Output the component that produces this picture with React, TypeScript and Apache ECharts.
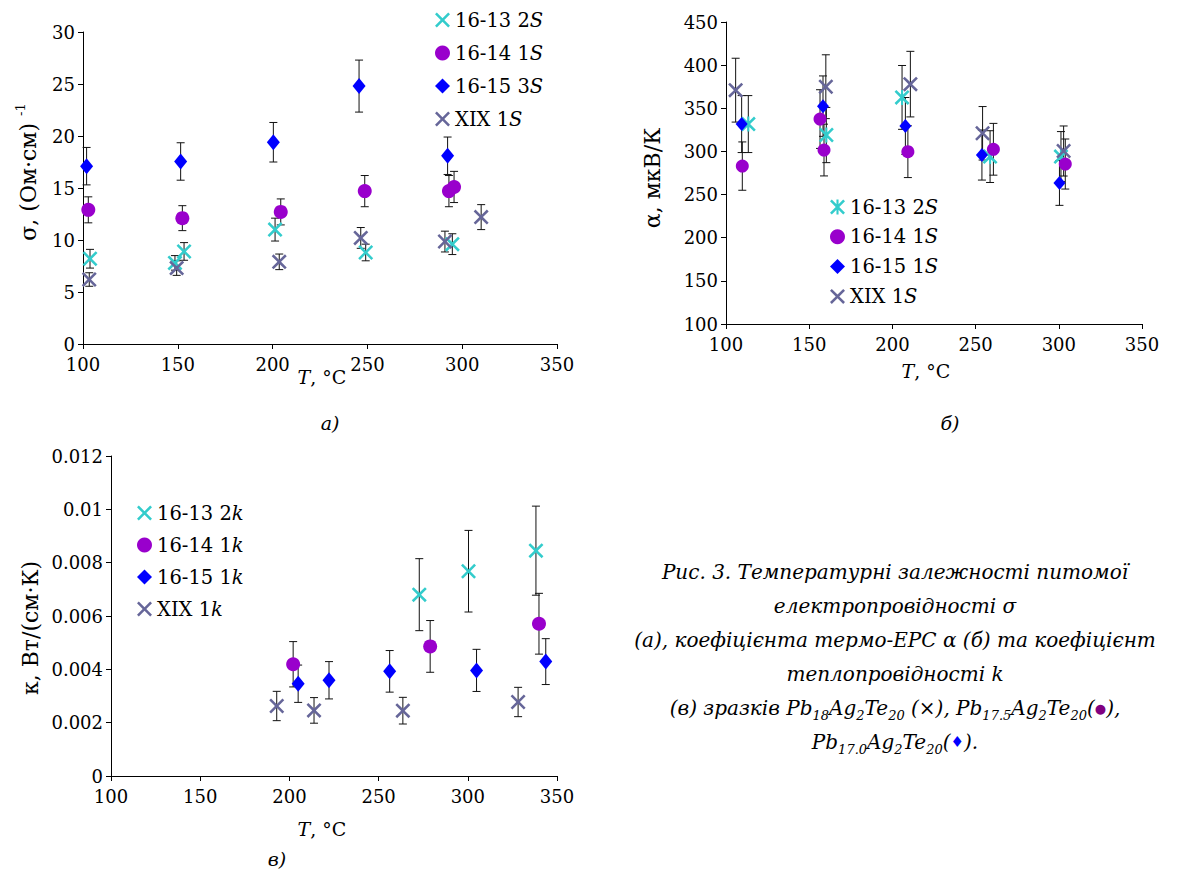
import React, { useEffect, useRef } from "react";
import * as echarts from "echarts";

const FONT = "DejaVu Serif";

// ---- Data: [T (°C), value, error] ----
// Panel а) σ, (Ом·см)^-1
const sigma1613 = [[103.7, 8.2, 0.9], [148.5, 7.8, 0.7], [153.3, 8.9, 0.85], [201.3, 11.0, 1.1], [249.1, 8.8, 0.8], [294.8, 9.6, 1.0]];
const sigma1614 = [[102.8, 12.9, 1.25], [152.4, 12.1, 1.2], [204.3, 12.7, 1.25], [248.6, 14.7, 1.5], [293.0, 14.7, 1.5], [295.7, 15.1, 1.5]];
const sigma1615 = [[101.9, 17.1, 1.8], [151.5, 17.55, 1.8], [200.4, 19.4, 1.9], [245.6, 24.8, 2.5], [292.3, 18.1, 1.8]];
const sigmaXIX = [[103.3, 6.2, 0.65], [149.4, 7.3, 0.7], [203.5, 7.9, 0.75], [246.5, 10.2, 1.0], [290.9, 9.85, 1.0], [310.0, 12.2, 1.2]];

// Panel б) α, мкВ/К
const alpha1613 = [[113.4, 331.7, 33], [160.3, 319, 32], [205.8, 362.6, 37], [258.7, 294, 30], [301.3, 294, 29]];
const alpha1614 = [[109.8, 283, 28], [156.5, 337.5, 34], [158.9, 301.6, 30], [209.3, 299.7, 30], [260.7, 302.5, 30], [303.9, 285.4, 29]];
const alpha1615 = [[109.4, 331.7, 33], [158.3, 352.5, 35], [207.8, 329.5, 33], [253.8, 295.8, 29], [300.4, 263.5, 26]];
const alphaXIX = [[105.8, 371, 37], [160.0, 375, 37], [210.8, 378, 38], [254.2, 321, 31], [302.9, 300.5, 29]];

// Panel в) κ, Вт/(см·К)
const kappa1613 = [[272.8, 0.0068, 0.00135], [300.4, 0.00768, 0.00153], [338.2, 0.00845, 0.00167]];
const kappa1614 = [[202.1, 0.00419, 0.00085], [278.9, 0.00486, 0.00097], [339.9, 0.00571, 0.00114]];
const kappa1615 = [[204.9, 0.00346, 0.0007], [222.2, 0.00359, 0.0007], [256.2, 0.003925, 0.00078], [304.9, 0.00396, 0.00079], [343.7, 0.00429, 0.00086]];
const kappaXIX = [[192.9, 0.002625, 0.00055], [213.8, 0.00246, 0.00048], [263.6, 0.00245, 0.0005], [328.2, 0.002775, 0.00055]];

// Legend labels (base text + italic letter)
const legendA = ["16-13 2", "16-14 1", "16-15 3", "XIX 1"];
const legendB = ["16-13 2", "16-14 1", "16-15 1", "XIX 1"];
const legendC = ["16-13 2", "16-14 1", "16-15 1", "XIX 1"];

// Axis ranges
const xRange = [100, 350, 50];
const sigmaRange = [0, 30, 5];
const alphaRange = [100, 450, 50];
const kappaRange = [0, 0.012, 0.002];

const COLORS = ["#33CCCC", "#9900CC", "#0000FF", "#666699"];
const X_SHAPE = "M0,1.2L1.2,0L5,3.8L8.8,0L10,1.2L6.2,5L10,8.8L8.8,10L5,6.2L1.2,10L0,8.8L3.8,5Z";
const X_PATH = "path://" + X_SHAPE;
const AST_PATH = "path://" + X_SHAPE + "M4.3,0L5.7,0L5.7,10L4.3,10Z";

function errRender(params: any, api: any) {
  const x = api.value(0);
  const lo = api.coord([x, api.value(1)]);
  const hi = api.coord([x, api.value(2)]);
  const w = 4;
  const st = { stroke: "#111", lineWidth: 1 };
  return {
    type: "group",
    children: [
      { type: "line", shape: { x1: lo[0], y1: lo[1], x2: hi[0], y2: hi[1] }, style: st },
      { type: "line", shape: { x1: lo[0] - w, y1: lo[1], x2: lo[0] + w, y2: lo[1] }, style: st },
      { type: "line", shape: { x1: hi[0] - w, y1: hi[1], x2: hi[0] + w, y2: hi[1] }, style: st },
    ],
  };
}

function buildPanel(panel: string, gi: number, sets: number[][][], labels: string[], letter: string, symbols: any[]) {
  const series: any[] = [];
  sets.forEach((d, i) => {
    series.push({
      type: "custom",
      name: `${panel}-err-${i}`,
      xAxisIndex: gi,
      yAxisIndex: gi,
      renderItem: errRender,
      encode: { x: 0, y: [1, 2] },
      data: d.map((p) => [p[0], p[1] - p[2], p[1] + p[2]]),
      z: 2,
      silent: true,
    });
  });
  sets.forEach((d, i) => {
    series.push({
      type: "scatter",
      name: `${panel}:${labels[i]}:${letter}`,
      xAxisIndex: gi,
      yAxisIndex: gi,
      symbol: symbols[i][0],
      symbolSize: symbols[i][1],
      itemStyle: { color: COLORS[i], opacity: 1 },
      data: d.map((p) => [p[0], p[1]]),
      z: 3,
    });
  });
  return series;
}

function axisCommon(range: number[], margin: number, fmt?: (v: number) => string) {
  return {
    type: "value",
    min: range[0],
    max: range[1],
    interval: range[2],
    axisLine: { show: true, onZero: false, lineStyle: { color: "#000", width: 1 } },
    axisTick: { show: true, inside: false, length: 5, lineStyle: { color: "#000" } },
    axisLabel: { color: "#000", fontFamily: FONT, fontSize: 18, margin, formatter: fmt },
    splitLine: { show: false },
  };
}

function legendFor(panel: string, labels: string[], letter: string, left: number, top: number, gap: number) {
  return {
    orient: "vertical",
    left,
    top,
    itemGap: gap,
    itemWidth: 15,
    itemHeight: 15,
    selectedMode: false,
    data: labels.map((l) => `${panel}:${l}:${letter}`),
    formatter: (name: string) => {
      const parts = name.split(":");
      return `{n|${parts[1]}}{i|${parts[2]}}`;
    },
    textStyle: {
      color: "#000",
      fontFamily: FONT,
      rich: {
        n: { fontFamily: FONT, fontSize: 19.5, color: "#000", lineHeight: 22 },
        i: { fontFamily: FONT, fontSize: 19.5, fontStyle: "italic", color: "#000", lineHeight: 22 },
      },
    },
  };
}

const capRich = {
  t: { fontFamily: FONT, fontSize: 20, fontStyle: "italic", fill: "#000", lineHeight: 28 },
  s: { fontFamily: FONT, fontSize: 13, fontStyle: "italic", fill: "#000", lineHeight: 14, verticalAlign: "bottom" },
  p: { fontFamily: FONT, fontSize: 13, fill: "#800080", lineHeight: 28 },
  d: { fontFamily: FONT, fontSize: 15, fill: "#0000FF", lineHeight: 28 },
};

const captionLines = [
  "{t|Рис. 3. Температурні залежності питомої}",
  "{t|електропровідності σ}",
  "{t|(а), коефіцієнта термо-ЕРС α (б) та коефіцієнт}",
  "{t|теплопровідності k}",
  "{t|(в) зразків Pb}{s|18}{t|Ag}{s|2}{t|Te}{s|20}{t| (×), Pb}{s|17.5}{t|Ag}{s|2}{t|Te}{s|20}{t|(}{p|●}{t|),}",
  "{t|Pb}{s|17.0}{t|Ag}{s|2}{t|Te}{s|20}{t|(}{d|♦}{t|).}",
];
const captionY = [572, 606, 640, 674, 708, 742];

function txt(x: number, y: number, text: string, rich: any, rotation = 0) {
  return {
    type: "text",
    x,
    y,
    rotation,
    style: { text, rich, fontFamily: FONT, align: "center", verticalAlign: "middle", fill: "#000" },
    z: 10,
  };
}

const axRich = {
  n: { fontFamily: FONT, fontSize: 19, fill: "#000", lineHeight: 24 },
  i: { fontFamily: FONT, fontSize: 19, fontStyle: "italic", fill: "#000", lineHeight: 24 },
};
const yRich = {
  n: { fontFamily: FONT, fontSize: 22, fill: "#000", lineHeight: 28 },
  sup: { fontFamily: FONT, fontSize: 13, fill: "#000", lineHeight: 12, verticalAlign: "top" },
};

export default function App() {
  const ref = useRef<HTMLDivElement>(null);
  useEffect(() => {
    if (!ref.current) return;
    const chart = echarts.init(ref.current, null, { renderer: "svg" });
    const kfmt = (v: number) => String(+v.toFixed(3));
    const option: any = {
      animation: false,
      backgroundColor: "#fff",
      textStyle: { fontFamily: FONT },
      grid: [
        { left: 83, top: 32, width: 474, height: 312 },
        { left: 726, top: 22, width: 416, height: 302 },
        { left: 111, top: 456, width: 446, height: 320 },
      ],
      xAxis: [
        { ...axisCommon(xRange, 11), gridIndex: 0 },
        { ...axisCommon(xRange, 11), gridIndex: 1 },
        { ...axisCommon(xRange, 11), gridIndex: 2 },
      ],
      yAxis: [
        { ...axisCommon(sigmaRange, 8), gridIndex: 0 },
        { ...axisCommon(alphaRange, 8), gridIndex: 1 },
        { ...axisCommon(kappaRange, 8, kfmt), gridIndex: 2 },
      ],
      legend: [
        legendFor("a", legendA, "S", 430, 5, 13),
        legendFor("b", legendB, "S", 825, 192, 9.8),
        legendFor("c", legendC, "k", 132, 498, 12),
      ],
      series: [
        ...buildPanel("a", 0, [sigma1613, sigma1614, sigma1615, sigmaXIX], legendA, "S",
          [[X_PATH, 15], ["circle", 14], ["diamond", [13, 16]], [X_PATH, 15]]),
        ...buildPanel("b", 1, [alpha1613, alpha1614, alpha1615, alphaXIX], legendB, "S",
          [[AST_PATH, 15], ["circle", 13], ["diamond", [12, 14]], [X_PATH, 15]]),
        ...buildPanel("c", 2, [kappa1613, kappa1614, kappa1615, kappaXIX], legendC, "k",
          [[X_PATH, 15], ["circle", 14], ["diamond", [13, 16]], [X_PATH, 15]]),
      ],
      graphic: [
        txt(28, 172, "{n|σ, (Ом·см) }{sup|-1}", yRich, Math.PI / 2),
        txt(652, 178, "{n|α, мкВ/К}", yRich, Math.PI / 2),
        txt(30, 628, "{n|κ, Вт/(см·К)}", yRich, Math.PI / 2),
        txt(322, 377, "{i|T}{n|, °C}", axRich),
        txt(926, 371, "{i|T}{n|, °C}", axRich),
        txt(322, 829, "{i|T}{n|, °C}", axRich),
        txt(330, 423, "{i|а)}", axRich),
        txt(950, 423, "{i|б)}", axRich),
        txt(277, 859, "{i|в)}", axRich),
        ...captionLines.map((l, i) => txt(895, captionY[i], l, capRich)),
      ],
    };
    chart.setOption(option);
    return () => chart.dispose();
  }, []);
  return (
    <div
      ref={ref}
      style={{ position: "absolute", left: 0, top: 0, width: 1189, height: 872, background: "#fff" }}
    />
  );
}
